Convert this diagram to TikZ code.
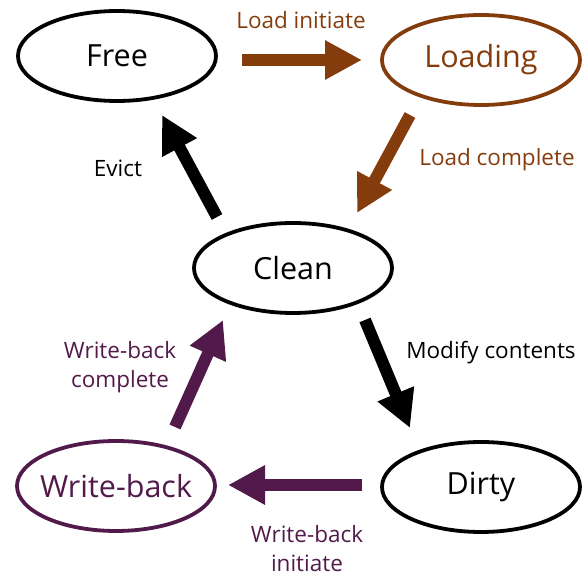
\documentclass[tikz,border=0pt]{standalone}
\usepackage{fontspec}
\setmainfont{Open Sans}
\usetikzlibrary{arrows.meta,shapes.geometric}
\definecolor{loadbrown}{HTML}{843C0C}
\definecolor{wbpurple}{HTML}{521A4B}
% state names are set in a zero-width box so every ellipse keeps the same size
\newcommand\statename[1]{\makebox[0pt][c]{#1}}
\tikzset{
  state/.style={ellipse, draw, line width=3.8pt, minimum width=198pt,
    minimum height=90pt, inner sep=0pt, font=\fontsize{30.5}{36}\selectfont},
  trans/.style={line width=12pt,
    -{Triangle[length=37pt,width=37pt]}},
  lbl/.style={align=center, font=\fontsize{22.5}{29}\selectfont, inner sep=0pt}
}
\begin{document}
\begin{tikzpicture}[x=1pt,y=-1pt]
\useasboundingbox (0,0) rectangle (582,577);
% states
\node[state] (free) at (117,56) {\statename{Free}};
\node[state, draw=loadbrown, text=loadbrown] (loading) at (481,60) {\statename{Loading}};
\node[state] (clean) at (293,268) {\statename{Clean}};
\node[state] (dirty) at (481,487) {\statename{Dirty}};
\node[state, draw=wbpurple, text=wbpurple] (wb) at (116,486) {\statename{Write-back}};
% transition end points
\coordinate (liS) at (242,60);  \coordinate (liE) at (362,60);
\coordinate (lcS) at (410,115); \coordinate (lcE) at (357,213);
\coordinate (evS) at (217,217); \coordinate (evE) at (162,115);
\coordinate (mcS) at (365,320); \coordinate (mcE) at (410,428);
\coordinate (wiS) at (362,485); \coordinate (wiE) at (228,485);
\coordinate (wcS) at (175,427); \coordinate (wcE) at (223,320);
% transitions
\draw[trans, loadbrown] (liS) -- (liE);
\draw[trans, loadbrown] (lcS) -- (lcE);
\draw[trans] (evS) -- (evE);
\draw[trans] (mcS) -- (mcE);
\draw[trans, wbpurple] (wiS) -- (wiE);
\draw[trans, wbpurple] (wcS) -- (wcE);
% labels
\node[lbl, text=loadbrown] (lLI) at (301,20) {Load initiate};
\node[lbl, text=loadbrown] (lLC) at (497,160) {Load complete};
\node[lbl] (lEV) at (118,168) {Evict};
\node[lbl] (lMC) at (491,353) {Modify contents};
\node[lbl, text=wbpurple] (lWC) at (120,367) {Write-back\\complete};
\node[lbl, text=wbpurple] (lWI) at (307,549) {Write-back\\initiate};
\end{tikzpicture}
\end{document}
